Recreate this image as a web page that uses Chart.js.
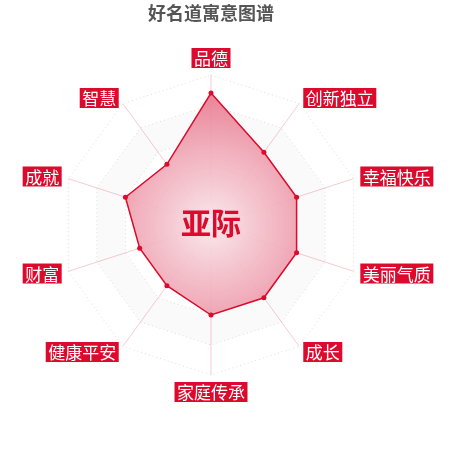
<!DOCTYPE html>
<html>
<head>
<meta charset="utf-8">
<script src="https://cdn.jsdelivr.net/npm/chart.js@4/dist/chart.umd.min.js"></script>
<style>
  html, body { margin: 0; padding: 0; background: #fff; }
  #wrap { width: 450px; height: 450px; position: relative; }
</style>
</head>
<body>
<div id="wrap"><canvas id="myChart"></canvas></div>
<script>
// 寓意维度和分值
const labels = ['品德', '创新独立', '幸福快乐', '美丽气质', '成长', '家庭传承', '健康平安', '财富', '成就', '智慧'];
const scores = [88, 60, 60, 60, 60, 60, 50, 50, 60, 50];
const centerName = '亚际';
const titleText = '好名道寓意图谱';

const RED = '#dc0a2d';

// 隔圈的淡灰色底纹
const bandPlugin = {
  id: 'bands',
  beforeDatasetsDraw(chart) {
    const s = chart.scales.r;
    const ctx = chart.ctx;
    const n = labels.length;
    const bands = [[20, 40], [60, 80]];
    ctx.save();
    bands.forEach(function (b) {
      ctx.beginPath();
      [b[1], b[0]].forEach(function (v) {
        const r = s.getDistanceFromCenterForValue(v);
        for (let i = 0; i < n; i++) {
          const p = s.getPointPosition(i, r);
          if (i === 0) ctx.moveTo(p.x, p.y); else ctx.lineTo(p.x, p.y);
        }
        ctx.closePath();
      });
      ctx.fillStyle = 'rgba(0,0,0,0.018)';
      ctx.fill('evenodd');
    });
    ctx.restore();
  }
};

// 红底白字的标签 + 中间的名字
const labelPlugin = {
  id: 'boxLabels',
  afterDatasetsDraw(chart) {
    const s = chart.scales.r;
    const ctx = chart.ctx;
    ctx.save();
    ctx.font = '17px "Noto Sans CJK SC"';
    ctx.textBaseline = 'middle';
    ctx.textAlign = 'center';
    labels.forEach(function (txt, i) {
      const p = s.getPointPosition(i, s.drawingArea + 7);
      const w = ctx.measureText(txt).width + 5;
      const h = 20;
      const deg = Math.round(s.getIndexAngle(i) * 180 / Math.PI);
      let x, y;
      if (deg === 0) { x = p.x - w / 2; y = p.y - h; }
      else if (deg === 180) { x = p.x - w / 2; y = p.y; }
      else if (deg < 180) { x = p.x; y = p.y - h / 2; }
      else { x = p.x - w; y = p.y - h / 2; }
      ctx.fillStyle = RED;
      ctx.fillRect(x, y, w, h);
      ctx.fillStyle = '#fff';
      ctx.fillText(txt, x + w / 2, y + h / 2 + 1);
    });

    ctx.font = 'bold 30px "Noto Sans CJK SC"';
    ctx.fillStyle = RED;
    ctx.fillText(centerName, s.xCenter, s.yCenter - 2);
    ctx.restore();
  }
};

function fillGradient(context) {
  const chart = context.chart;
  const s = chart.scales.r;
  if (!chart.chartArea || !s) return 'rgba(230,110,130,0.5)';
  const g = chart.ctx.createRadialGradient(s.xCenter, s.yCenter, 0, s.xCenter, s.yCenter, s.drawingArea);
  g.addColorStop(0, 'rgba(250,232,236,0.95)');
  g.addColorStop(0.5, 'rgba(240,170,184,0.92)');
  g.addColorStop(1, 'rgba(228,105,130,0.92)');
  return g;
}

const ctx = document.getElementById('myChart').getContext('2d');
const myChart = new Chart(ctx, {
  type: 'radar',
  data: {
    labels: labels,
    datasets: [
      {
        label: centerName,
        data: scores,
        backgroundColor: fillGradient,
        borderColor: RED,
        borderWidth: 1.5,
        pointRadius: 2.5,
        pointBackgroundColor: RED,
        pointBorderWidth: 0,
        fill: true,
      },
    ],
  },
  options: {
    responsive: true,
    maintainAspectRatio: false,
    animation: false,
    layout: { padding: { left: 61, right: 89, top: 0, bottom: 75 } },
    plugins: {
      legend: { display: false },
      tooltip: { enabled: false },
      title: {
        display: true,
        text: titleText,
        color: '#555',
        font: { size: 18, weight: 'bold', family: '"Noto Sans CJK SC"' },
        padding: { top: 2, bottom: 51.4 },
      },
    },
    scales: {
      r: {
        min: 0,
        max: 100,
        ticks: { display: false, stepSize: 20 },
        pointLabels: { display: false },
        grid: { color: '#dcdcdc' },
        border: { dash: [1, 3] },
        angleLines: { color: 'rgba(225,70,100,0.28)', lineWidth: 1 },
      },
    },
  },
  plugins: [bandPlugin, labelPlugin],
});
</script>
</body>
</html>
